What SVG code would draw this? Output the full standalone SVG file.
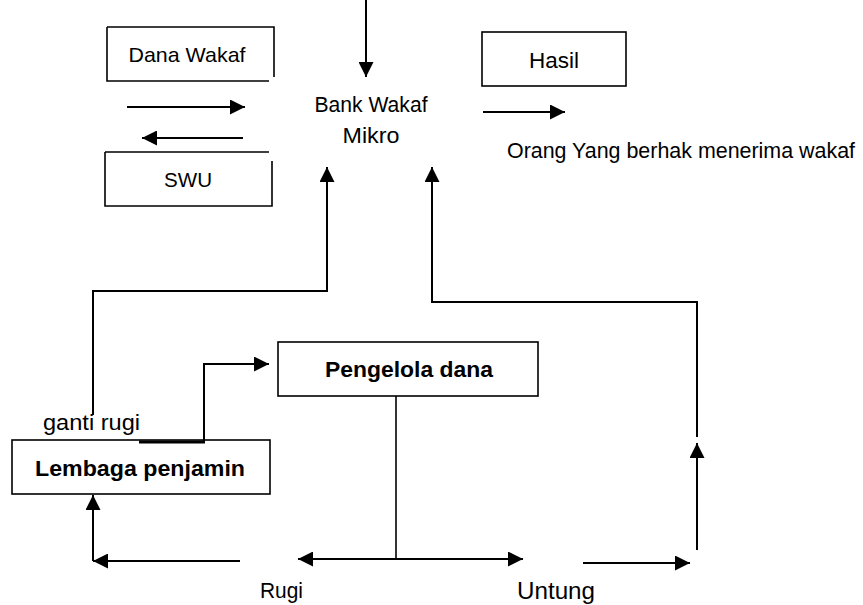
<svg xmlns="http://www.w3.org/2000/svg" width="863" height="605" viewBox="0 0 863 605">
<style>
  .box { fill: none; stroke: #000; stroke-width: 1.6; }
  .ln { fill: none; stroke: #000; stroke-width: 2; }
  .ah { marker-end: url(#ah); }
  text { font-family: "Liberation Sans", Arial, sans-serif; fill: #000; }
  .b { font-weight: bold; }
</style>
<defs>
  <marker id="ah" markerUnits="userSpaceOnUse" markerWidth="16" markerHeight="15" refX="15" refY="7.5" orient="auto">
    <path d="M0,0 L15,7.5 L0,15 z" fill="#000"/>
  </marker>
  <marker id="ahs" markerUnits="userSpaceOnUse" markerWidth="16" markerHeight="15" refX="0" refY="7.5" orient="auto">
    <path d="M15,0 L0,7.5 L15,15 z" fill="#000"/>
  </marker>
</defs>
<rect width="863" height="605" fill="#fff"/>

<g id="dana-wakaf">
  <path class="box" d="M107,27 H274 V77 M107,27 V81 H269"/>
  <text x="187" y="62" font-size="21" text-anchor="middle" textLength="117" lengthAdjust="spacingAndGlyphs">Dana Wakaf</text>
</g>
<g id="swu">
  <path class="box" d="M105,152 H269 M272,161 V206 H105 V152"/>
  <text x="188" y="187" font-size="21" text-anchor="middle" textLength="48" lengthAdjust="spacingAndGlyphs">SWU</text>
</g>
<g id="bank-wakaf-mikro">
  <text x="371" y="112" font-size="22" text-anchor="middle" textLength="113" lengthAdjust="spacingAndGlyphs">Bank Wakaf</text>
  <text x="371" y="143" font-size="22" text-anchor="middle" textLength="57" lengthAdjust="spacingAndGlyphs">Mikro</text>
</g>
<g id="hasil">
  <rect class="box" x="482" y="32" width="144" height="54"/>
  <text x="554" y="68" font-size="22" text-anchor="middle" textLength="50" lengthAdjust="spacingAndGlyphs">Hasil</text>
</g>
<g id="orang">
  <text x="507" y="158" font-size="22" textLength="348" lengthAdjust="spacingAndGlyphs">Orang Yang berhak menerima wakaf</text>
</g>
<g id="pengelola-dana">
  <rect class="box" x="278" y="342" width="260" height="54"/>
  <text class="b" x="409" y="377" font-size="22" text-anchor="middle" textLength="168" lengthAdjust="spacingAndGlyphs">Pengelola dana</text>
</g>
<g id="lembaga-penjamin">
  <rect class="box" x="12" y="440" width="258" height="54"/>
  <text class="b" x="140" y="476" font-size="22" text-anchor="middle" textLength="210" lengthAdjust="spacingAndGlyphs">Lembaga penjamin</text>
</g>
<g id="ganti-rugi">
  <text x="43" y="430" font-size="22" textLength="97" lengthAdjust="spacingAndGlyphs">ganti rugi</text>
</g>
<g id="rugi">
  <text x="260" y="598" font-size="22" textLength="43" lengthAdjust="spacingAndGlyphs">Rugi</text>
</g>
<g id="untung">
  <text x="517" y="599" font-size="23" textLength="78" lengthAdjust="spacingAndGlyphs">Untung</text>
</g>

<g id="connectors">
  <path class="ln ah" d="M127,107 H245"/>
  <path class="ln ah" d="M243,138 H142"/>
  <path class="ln ah" d="M366,0 V77"/>
  <path class="ln ah" d="M483,112 H565"/>
  <path class="ln ah" d="M93,415 V291 H327 V167"/>
  <path class="ln ah" d="M697,437 V302 H432 V167"/>
  <path class="ln ah" d="M204,442 V364 H269"/>
  <path fill="none" stroke="#000" stroke-width="3.2" d="M139,442 H205"/>
  <path class="box" d="M396,396 V559"/>
  <path class="ln" marker-start="url(#ahs)" marker-end="url(#ah)" d="M298,559 H523"/>
  <path class="ln ah" d="M240,561 H93"/>
  <path class="ln ah" d="M93,561 V495"/>
  <path class="ln ah" d="M583,563 H690"/>
  <path class="ln ah" d="M697,550 V443"/>
</g>
</svg>
